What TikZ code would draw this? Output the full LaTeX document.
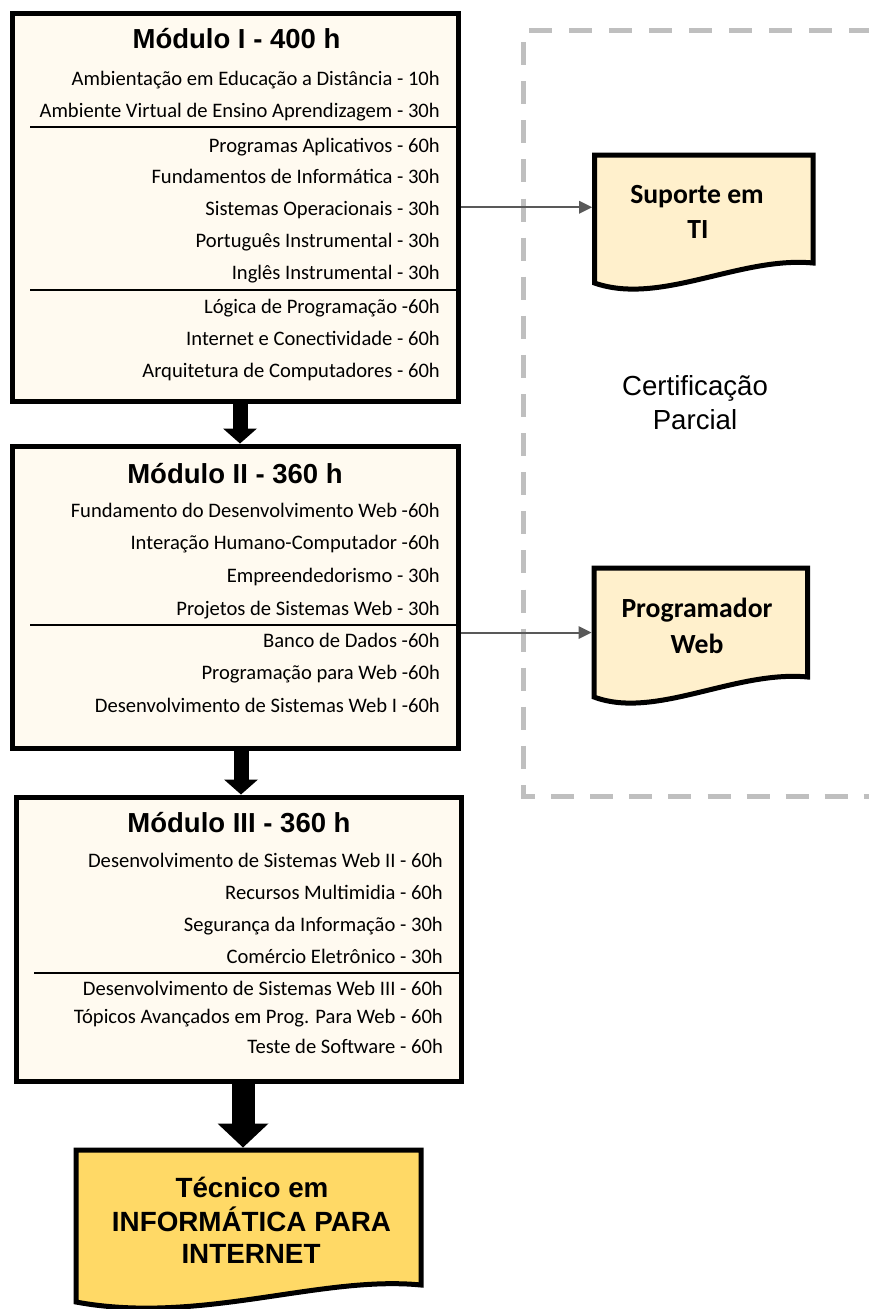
\documentclass[tikz,border=0pt]{standalone}
\usepackage{fontspec}
\setmainfont{Carlito}
\newfontfamily\arialf{Liberation Sans}
\usetikzlibrary{arrows.meta,calc}
\definecolor{modfill}{HTML}{FFFAF0}
\definecolor{certfill}{HTML}{FFF0CC}
\definecolor{finalfill}{HTML}{FFD966}
\definecolor{dashgray}{HTML}{BFBFBF}
\definecolor{linkgray}{HTML}{595959}
\begin{document}
\begin{tikzpicture}[x=1pt,y=-1pt,
  modbox/.style={draw=black, line width=5pt, fill=modfill, rectangle, inner sep=0pt},
  modtitle/.style={font=\arialf\bfseries\fontsize{27.5}{32}\selectfont, anchor=base, inner sep=0pt},
  item/.style={font=\fontsize{20.6}{24}\selectfont, anchor=base east, inner sep=0pt, text=black},
  sepline/.style={line width=1.5pt},
  thickarrow/.style={line width=#1, -{Triangle[width=34pt,length=15pt,line width=0pt]}},
  link/.style={draw=linkgray, line width=2pt, -{Triangle[width=13pt,length=13pt,line width=0pt]}},
  docshape/.style={draw=black, line width=5pt, line join=miter},
  doctext/.style={font=\bfseries\fontsize{27.7}{32}\selectfont, anchor=base, inner sep=0pt},
  fintext/.style={font=\arialf\bfseries\fontsize{27.8}{32}\selectfont, anchor=base, inner sep=0pt},
  certtext/.style={font=\arialf\fontsize{27.6}{32}\selectfont, anchor=base, inner sep=0pt},
  holder/.style={rectangle, inner sep=0pt, outer sep=2.5pt},
]
\clip (0,0) rectangle (869,1309);
\useasboundingbox (0,0) rectangle (869,1309);
\fill[white] (0,0) rectangle (869,1309);

% dashed certification frame
\draw[dashgray, line width=5pt, dash pattern=on 23pt off 17pt] (529,30) -- (890,30);
\draw[dashgray, line width=5pt, dash pattern=on 23pt off 16.1pt, dash phase=27pt] (523,30) -- (523,796) -- (890,796);
\node[certtext] (cert1) at (695,395) {Certificação};
\node[certtext] (cert2) at (695,429) {Parcial};

% modules
\node[modbox, minimum width=445.5pt, minimum height=387.5pt] (m1) at (235.25,207.25) {};
\node[modbox, minimum width=445.5pt, minimum height=302pt] (m2) at (235.25,597) {};
\node[modbox, minimum width=445pt, minimum height=284pt] (m3) at (238.5,939) {};

\draw[sepline] (30,127) -- (458,127);
\draw[sepline] (30,290) -- (458,290);
\draw[sepline] (30,625) -- (458,625);
\draw[sepline] (34,973) -- (459,973);

\node[modtitle] (m1t) at (236.5,48) {Módulo I - 400 h};
\node[modtitle] (m2t) at (235,483) {Módulo II - 360 h};
\node[modtitle] (m3t) at (239,832) {Módulo III - 360 h};

\foreach \y/\t in {85/Ambientação em Educação a Distância - 10h,
  117/Ambiente Virtual de Ensino Aprendizagem - 30h,
  152/Programas Aplicativos - 60h,
  183/Fundamentos de Informática - 30h,
  215/Sistemas Operacionais - 30h,
  247/Português Instrumental - 30h,
  279/Inglês Instrumental - 30h,
  313/Lógica de Programação -60h,
  345/Internet e Conectividade - 60h,
  377/Arquitetura de Computadores - 60h}
  \node[item] (m1i\y) at (440,\y) {\t};

\foreach \y/\t in {517/Fundamento do Desenvolvimento Web -60h,
  549/Interação Humano-Computador -60h,
  582/Empreendedorismo - 30h,
  615/Projetos de Sistemas Web - 30h,
  647/Banco de Dados -60h,
  679/Programação para Web -60h,
  712/Desenvolvimento de Sistemas Web I -60h}
  \node[item] (m2i\y) at (440,\y) {\t};

\foreach \y/\t in {867/Desenvolvimento de Sistemas Web II - 60h,
  899/Recursos Multimidia - 60h,
  931/Segurança da Informação - 30h,
  963/Comércio Eletrônico - 30h,
  995/Desenvolvimento de Sistemas Web III - 60h,
  1023/Tópicos Avançados em Prog. Para Web - 60h,
  1053/Teste de Software - 60h}
  \node[item] (m3i\y) at (443,\y) {\t};

% certificate documents
\draw[docshape, fill=certfill] (594.5,155) -- (813,155) -- (813,263)
  .. controls (740,256) and (660,306) .. (594.5,283) -- cycle;
\node[holder, minimum width=218.5pt, minimum height=128pt] (sup) at (703.75,219) {};
\node[doctext] (sup1) at (697,203) {Suporte em};
\node[doctext] (sup2) at (698,238) {TI};

\draw[docshape, fill=certfill] (594,568) -- (807.5,568) -- (807.5,677)
  .. controls (735,670) and (655,720) .. (594,697) -- cycle;
\node[holder, minimum width=213.5pt, minimum height=129pt] (prog) at (700.75,632.5) {};
\node[doctext] (prog1) at (697,617) {Programador};
\node[doctext] (prog2) at (697,653) {Web};

% final document
\draw[docshape, fill=finalfill] (76,1150) -- (421,1150) -- (421,1285)
  .. controls (320,1275) and (200,1325) .. (76,1302) -- cycle;
\node[holder, minimum width=345pt, minimum height=135pt] (fin) at (248.5,1217.5) {};
\node[fintext] (fin1) at (252,1197) {Técnico em};
\node[fintext] (fin2) at (251.5,1231) {INFORMÁTICA PARA};
\node[fintext] (fin3) at (251,1263) {INTERNET};

% connectors
\draw[thickarrow=15pt] ($(m1.south)+(4.75,0)$) -- ($(m2.north)+(4.75,0)$);
\draw[thickarrow=15pt] ($(m2.south)+(5.75,0)$) -- ($(m3.north)+(2.5,0)$);
\draw[line width=23pt, -{Triangle[width=51pt,length=24pt,line width=0pt]}] ($(m3.south)+(4.5,0)$) -- ($(fin.north)+(-5.5,0)$);

\draw[link] (m1.east) -- (m1.east -| sup.west);
\draw[link] (m2.east |- prog.west) -- (prog.west);
\end{tikzpicture}
\end{document}
